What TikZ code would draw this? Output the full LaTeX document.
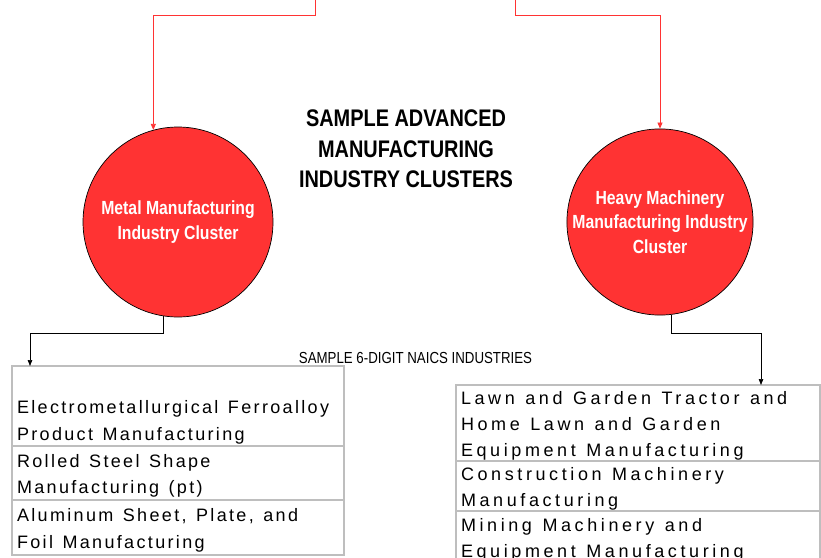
\documentclass[tikz,border=0pt]{standalone}
\usepackage{fontspec}
\setmainfont{Liberation Sans}
\newfontfamily\narrowfont[FakeStretch=0.83]{Liberation Sans}
\newfontfamily\listfont[LetterSpace=13]{Liberation Sans}
\newfontfamily\listfontwide[LetterSpace=20]{Liberation Sans}
\newcommand\metalrowfont{\listfont\fontsize{18}{26.7}\selectfont\spaceskip 9.5pt\relax}
\newcommand\heavyrowfont{\listfontwide\fontsize{18}{26}\selectfont\spaceskip 10.5pt\relax}
\usetikzlibrary{arrows.meta,positioning}
\definecolor{clusterred}{RGB}{255,51,51}
\definecolor{rowline}{RGB}{190,190,190}

\begin{document}
\begin{tikzpicture}[x=1pt,y=-1pt,
    cluster/.style={circle,draw=black,line width=0.7pt,fill=clusterred,inner sep=0pt,
      text=white,align=center,font=\narrowfont\bfseries\fontsize{19}{24.5}\selectfont},
    rowbox/.style={rectangle,draw=rowline,line width=1.2pt,outer sep=0pt,
      inner xsep=5pt,inner ysep=0pt,align=flush left},
    metalrow/.style={rowbox,minimum width=332pt,text width=322pt,font=\metalrowfont},
    heavyrow/.style={rowbox,minimum width=364pt,text width=354pt,font=\heavyrowfont},
    redarrow/.style={draw=clusterred,line width=0.8pt,-{Triangle[length=6pt,width=5pt]}},
    blackarrow/.style={draw=black,line width=0.7pt,-{Triangle[length=6pt,width=4.5pt]}}]
    \useasboundingbox (0,0) rectangle (821,557);

    % Clusters
    \node[cluster,minimum size=190pt] (metal) at (178,222) {Metal Manufacturing\\Industry Cluster};
    \node[cluster,minimum size=186pt] (heavy) at (660,222) {Heavy Machinery\\Manufacturing Industry\\Cluster};

    % Titles
    \node[align=center,font=\narrowfont\bfseries\fontsize{24}{30.5}\selectfont] (title) at (406,149)
      {SAMPLE ADVANCED\\MANUFACTURING\\INDUSTRY CLUSTERS};
    \node[font=\narrowfont\fontsize{16}{19}\selectfont] (naics) at (415.5,358) {SAMPLE 6-DIGIT NAICS INDUSTRIES};

    % Metal industries
    \node[metalrow,minimum height=80pt,anchor=north west] (m1) at (12,366)
      {\strut\\Electrometallurgical Ferroalloy\\Product Manufacturing};
    \node[metalrow,minimum height=54pt,below=0pt of m1] (m2) {\strut Rolled Steel Shape\\Manufacturing (pt)};
    \node[metalrow,minimum height=55pt,below=0pt of m2] (m3) {\strut Aluminum Sheet, Plate, and\\Foil Manufacturing};

    % Heavy machinery industries
    \node[heavyrow,minimum height=76pt,anchor=north west] (h1) at (456,385)
      {\strut Lawn and Garden Tractor and\\Home Lawn and Garden\\Equipment Manufacturing};
    \node[heavyrow,minimum height=50pt,below=0pt of h1] (h2) {\strut Construction Machinery\\Manufacturing};
    \node[heavyrow,minimum height=52pt,below=0pt of h2] (h3) {\strut Mining Machinery and\\Equipment Manufacturing};

    % Connectors
    \coordinate (topL) at (315,0);
    \coordinate (topR) at (515,0);
    \draw[redarrow] (topL) -- ++(0,15) -| (metal.105);
    \draw[redarrow] (topR) -- ++(0,15) -| (heavy.north);
    \draw[blackarrow] (metal.261) -- ++(0,17) -| ([xshift=18pt]m1.north west);
    \draw[blackarrow] (heavy.277) -- ++(0,19) -| ([xshift=-59pt]h1.north east);
\end{tikzpicture}
\end{document}
